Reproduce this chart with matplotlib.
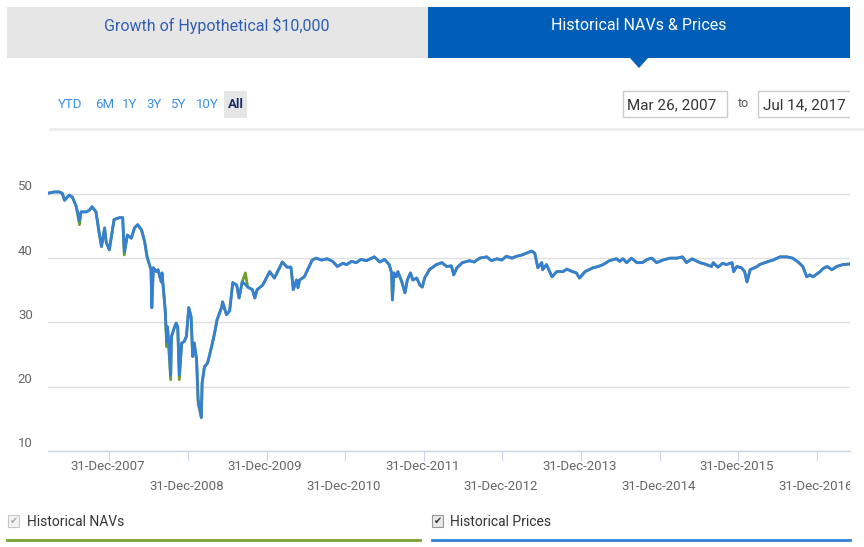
import matplotlib
matplotlib.use("Agg")
import matplotlib.pyplot as plt
from matplotlib.patches import Rectangle, Polygon
from matplotlib.lines import Line2D

# decimal years (Mar 2007 .. mid 2017)
years = [2007.22, 2007.30, 2007.36, 2007.40, 2007.43, 2007.49, 2007.53, 2007.58, 2007.62, 2007.64,
         2007.71, 2007.75, 2007.78, 2007.83, 2007.87, 2007.90, 2007.94, 2007.96, 2008.00, 2008.03,
         2008.06, 2008.13, 2008.17, 2008.19, 2008.23, 2008.28, 2008.32, 2008.36, 2008.41, 2008.45,
         2008.48, 2008.53, 2008.54, 2008.56, 2008.60, 2008.62, 2008.66, 2008.67, 2008.71, 2008.73,
         2008.74, 2008.76, 2008.78, 2008.79, 2008.83, 2008.85, 2008.87, 2008.89, 2008.92, 2008.95,
         2008.98, 2009.01, 2009.04, 2009.06, 2009.08, 2009.11, 2009.12, 2009.13, 2009.17, 2009.18,
         2009.21, 2009.25, 2009.30, 2009.34, 2009.37, 2009.43, 2009.44, 2009.49, 2009.53, 2009.57,
         2009.62, 2009.65, 2009.69, 2009.73, 2009.76, 2009.82, 2009.85, 2009.88, 2009.95, 2010.04,
         2010.10, 2010.20, 2010.26, 2010.31, 2010.34, 2010.38, 2010.40, 2010.42, 2010.48, 2010.58,
         2010.63, 2010.70, 2010.77, 2010.84, 2010.90, 2010.97, 2011.02, 2011.08, 2011.14, 2011.20,
         2011.27, 2011.32, 2011.37, 2011.44, 2011.50, 2011.56, 2011.59, 2011.60, 2011.62, 2011.65,
         2011.67, 2011.72, 2011.76, 2011.79, 2011.83, 2011.86, 2011.91, 2011.95, 2011.98, 2012.01,
         2012.07, 2012.16, 2012.23, 2012.29, 2012.35, 2012.38, 2012.42, 2012.49, 2012.58, 2012.64,
         2012.71, 2012.80, 2012.86, 2012.93, 2012.99, 2013.05, 2013.12, 2013.18, 2013.25, 2013.31,
         2013.37, 2013.41, 2013.45, 2013.50, 2013.51, 2013.56, 2013.63, 2013.69, 2013.77, 2013.82,
         2013.89, 2013.94, 2013.98, 2014.05, 2014.15, 2014.22, 2014.28, 2014.36, 2014.45, 2014.49,
         2014.53, 2014.58, 2014.64, 2014.71, 2014.78, 2014.84, 2014.90, 2014.96, 2015.04, 2015.13,
         2015.22, 2015.29, 2015.34, 2015.41, 2015.51, 2015.57, 2015.66, 2015.68, 2015.74, 2015.80,
         2015.85, 2015.92, 2015.94, 2015.98, 2016.04, 2016.08, 2016.11, 2016.15, 2016.24, 2016.27,
         2016.36, 2016.44, 2016.53, 2016.62, 2016.69, 2016.76, 2016.82, 2016.87, 2016.91, 2016.95,
         2017.04, 2017.08, 2017.13, 2017.19, 2017.25, 2017.33, 2017.42]

prices = [50.1, 50.3, 50.3, 50.1, 49.0, 49.8, 49.5, 48.0, 45.8, 47.2,
          47.2, 47.5, 48.0, 47.2, 44.0, 41.8, 44.7, 42.5, 41.3, 43.6,
          46.0, 46.3, 46.3, 41.0, 43.6, 43.1, 44.7, 45.2, 44.4, 42.5,
          40.2, 38.2, 32.3, 38.5, 37.9, 38.2, 36.3, 37.7, 32.0, 27.0,
          29.3, 25.8, 21.8, 27.8, 29.3, 29.9, 29.3, 21.8, 26.8, 27.0,
          27.8, 32.3, 30.9, 24.7, 26.8, 24.2, 20.6, 18.0, 15.2, 20.6,
          23.1, 23.7, 26.2, 28.4, 30.4, 32.4, 33.2, 31.2, 31.8, 36.2,
          35.8, 33.8, 36.3, 35.9, 35.5, 35.1, 33.8, 35.1, 35.8, 37.9,
          36.9, 39.4, 38.6, 38.6, 35.1, 36.6, 35.4, 36.6, 37.1, 39.7,
          40.0, 39.7, 39.9, 39.5, 38.7, 39.2, 39.0, 39.5, 39.3, 39.8,
          39.6, 39.9, 40.2, 39.4, 39.8, 39.0, 37.7, 33.5, 37.7, 37.1,
          37.9, 36.3, 34.6, 36.6, 37.7, 36.6, 36.9, 35.8, 35.5, 36.9,
          38.2, 39.0, 39.3, 38.7, 38.8, 37.4, 38.5, 39.3, 39.6, 39.4,
          40.0, 40.2, 39.6, 39.9, 39.7, 40.3, 40.0, 40.3, 40.5, 40.8,
          41.1, 40.8, 38.5, 39.3, 38.2, 39.0, 37.1, 37.9, 37.9, 38.3,
          37.9, 37.7, 36.9, 37.9, 38.5, 38.7, 39.0, 39.6, 39.9, 39.5,
          39.9, 39.3, 40.0, 39.3, 39.3, 39.8, 40.0, 39.3, 39.7, 40.0,
          40.0, 40.2, 39.3, 39.9, 39.3, 39.1, 38.7, 39.3, 38.6, 39.2,
          39.0, 39.3, 37.9, 38.7, 38.5, 37.9, 36.3, 38.2, 38.7, 39.0,
          39.4, 39.7, 40.2, 40.2, 40.0, 39.4, 38.7, 37.1, 37.4, 37.1,
          37.9, 38.4, 38.7, 38.2, 38.7, 39.0, 39.1]

# NAV follows the price except on a few days where it pokes out
nav_spikes = {2007.62: 45.2, 2008.19: 40.5, 2008.73: 26.2, 2008.76: 25.3,
              2008.78: 21.1, 2008.89: 21.1, 2009.13: 17.3, 2009.73: 37.7}
navs = [nav_spikes.get(y, p) for y, p in zip(years, prices)]

tick_years = list(range(2007, 2017))
x_start, x_end = 2007.22, 2017.42
y_ticks = [10, 20, 30, 40, 50]

BLUE = "#3580d4"
GREEN = "#6f9c2c"
TAB_BLUE = "#005eb8"
plt.rcParams["font.family"] = ["Roboto", "DejaVu Sans"]

W, H = 864, 547
fig = plt.figure(figsize=(W / 100, H / 100), dpi=100)
fig.patch.set_facecolor("white")


def fx(x):
    return x / W


def fy(y):
    return 1 - y / H


def box(x0, y0, x1, y1, **kw):
    fig.add_artist(Rectangle((fx(x0), fy(y1)), fx(x1 - x0), (y1 - y0) / H,
                             transform=fig.transFigure, **kw))


def label(x, y, s, **kw):
    fig.text(fx(x), fy(y), s, **kw)


# tabs
box(7, 7, 428, 58, facecolor="#e6e6e6", edgecolor="none")
box(428, 7, 850, 58, facecolor=TAB_BLUE, edgecolor="none")
fig.add_artist(Polygon([(fx(630), fy(58)), (fx(648), fy(58)), (fx(639), fy(68))],
                       closed=True, transform=fig.transFigure, facecolor=TAB_BLUE, edgecolor="none"))
label(217, 25, "Growth of Hypothetical $10,000", color="#2f5fb0", fontsize=11.5, ha="center", va="center")
label(639, 25, "Historical NAVs & Prices", color="white", fontsize=11.5, ha="center", va="center")

# range buttons
buttons = ["YTD", "6M", "1Y", "3Y", "5Y", "10Y"]
btn_x = [58, 95, 122, 146, 171, 196]
for b, bx in zip(buttons, btn_x):
    label(bx, 105, b, color="#3a8ee0", fontsize=9.5, va="center")
box(224, 91, 247, 118, facecolor="#e6e6e6", edgecolor="none")
label(235.5, 105, "All", color="#1b2d6b", fontsize=9.5, fontweight="bold", ha="center", va="center")

# date inputs
box(623, 91, 727, 117, facecolor="white", edgecolor="#cccccc", linewidth=1)
label(627, 105, "Mar 26, 2007", color="#333333", fontsize=11, va="center")
label(744, 104, "to", color="#555555", fontsize=9, ha="center", va="center")
box(758, 91, 880, 117, facecolor="white", edgecolor="#cccccc", linewidth=1)
label(763, 105, "Jul 14, 2017", color="#333333", fontsize=11, va="center")
fig.add_artist(Line2D([fx(50), fx(864)], [fy(129), fy(129)], transform=fig.transFigure,
                      color="#ededed", linewidth=2))

# chart area
ax_l, ax_r, ax_t, ax_b = 48, 850, 181, 451
ax = fig.add_axes([fx(ax_l), fy(ax_b), fx(ax_r - ax_l), (ax_b - ax_t) / H])
ax.plot(years, navs, color=GREEN, linewidth=2.0, solid_joinstyle="round")
ax.plot(years, prices, color=BLUE, linewidth=2.0, solid_joinstyle="round")
ax.set_xlim(x_start, x_end)
ax.set_ylim(10, 52)
ax.set_yticks(y_ticks)
ax.yaxis.grid(True, color="#e0e0e0", linewidth=1)
ax.set_axisbelow(True)
ax.tick_params(axis="y", length=0, labelleft=False)
for s in ["top", "right", "left"]:
    ax.spines[s].set_visible(False)
ax.spines["bottom"].set_color("#ccd6eb")
ax.spines["bottom"].set_linewidth(1)

tick_pos = [y + 1 for y in tick_years]
ax.set_xticks(tick_pos)
ax.tick_params(axis="x", length=7, color="#ccd6eb", labelbottom=False, direction="out")

ytrans = ax.get_yaxis_transform()
for v in y_ticks:
    ax.text(-0.019, v + 1.1, str(v), transform=ytrans, ha="right", va="center",
            color="#666666", fontsize=9.5)

xtrans = ax.get_xaxis_transform()
for i, (yr, pos) in enumerate(zip(tick_years, tick_pos)):
    row_y = -0.059 if i % 2 == 0 else -0.133
    ax.text(pos - 0.02, row_y, f"31-Dec-{yr}", transform=xtrans, ha="center", va="center",
            color="#666666", fontsize=9.5, clip_on=False)

# the widget is cut off at the right edge
box(850, 85, 864, 123, facecolor="white", edgecolor="none", zorder=10)
box(850, 455, 864, 500, facecolor="white", edgecolor="none", zorder=10)

# legend
box(8, 515, 19, 527, facecolor="#f2f2f2", edgecolor="#c8c8c8", linewidth=0.8)
label(13.5, 521, "\u2714", color="#aaaaaa", fontsize=7, ha="center", va="center", family="DejaVu Sans")
label(27, 522, "Historical NAVs", color="#333333", fontsize=10, va="center")
box(432, 515, 443, 527, facecolor="#e8e8e8", edgecolor="#999999", linewidth=0.8)
label(437.5, 521, "\u2714", color="#333333", fontsize=7, ha="center", va="center", family="DejaVu Sans")
label(450, 522, "Historical Prices", color="#333333", fontsize=10, va="center")
fig.add_artist(Line2D([fx(7), fx(420)], [fy(540), fy(540)], transform=fig.transFigure,
                      color="#77a22f", linewidth=2))
fig.add_artist(Line2D([fx(432), fx(850)], [fy(540), fy(540)], transform=fig.transFigure,
                      color="#2f80d8", linewidth=2))

fig.savefig("out.png", dpi=100)
